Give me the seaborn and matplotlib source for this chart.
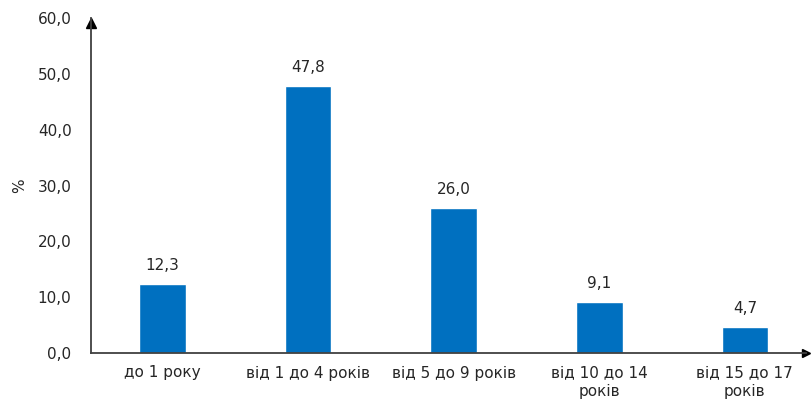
import matplotlib
matplotlib.use("Agg")
import matplotlib.pyplot as plt
import seaborn as sns
import pandas as pd

categories = ["до 1 року", "від 1 до 4 років", "від 5 до 9 років",
              "від 10 до 14\nроків", "від 15 до 17\nроків"]
values = [12.3, 47.8, 26.0, 9.1, 4.7]
y_ticks = [0, 10, 20, 30, 40, 50, 60]

sns.set_style("white")
plt.rcParams["font.family"] = ["DejaVu Sans"]

FS = 11
TXT = "#262626"

df = pd.DataFrame({"group": categories, "share": values})

fig = plt.figure(figsize=(8.11, 4.01), dpi=100)
ax = fig.add_axes([91 / 811, 48 / 401, (806 - 91) / 811, (353 - 18) / 401])

sns.barplot(data=df, x="group", y="share", color="#0070C0", saturation=1,
            width=0.32, ax=ax)

for i, v in enumerate(values):
    ax.text(i, v + 2.0, f"{v:.1f}".replace(".", ","), ha="center", va="bottom",
            fontsize=FS, color=TXT)

ax.set_xlim(-0.49, 4.42)
ax.set_ylim(0, 60)
ax.set_yticks(y_ticks)
ax.set_yticklabels([f"{t:.1f}".replace(".", ",") for t in y_ticks])
ax.tick_params(axis="both", length=0, labelsize=FS, colors=TXT)
ax.tick_params(axis="y", pad=14)
ax.tick_params(axis="x", pad=9)
for lbl in ax.get_xticklabels():
    lbl.set_linespacing(1.25)
ax.set_xlabel("")
ax.set_ylabel("%", fontsize=FS, color=TXT)
ax.yaxis.set_label_coords(-0.09, 0.5)

for s in ["top", "right"]:
    ax.spines[s].set_visible(False)
for s in ["left", "bottom"]:
    ax.spines[s].set_color("#404040")
    ax.spines[s].set_linewidth(1.3)

# arrow heads at the ends of both axes
ax.plot(1, 0, ">", color="black", markersize=6, transform=ax.transAxes,
        clip_on=False)
ax.plot(0, 0.985, "^", color="black", markersize=7, transform=ax.transAxes,
        clip_on=False)

fig.savefig("out.png", dpi=100)
